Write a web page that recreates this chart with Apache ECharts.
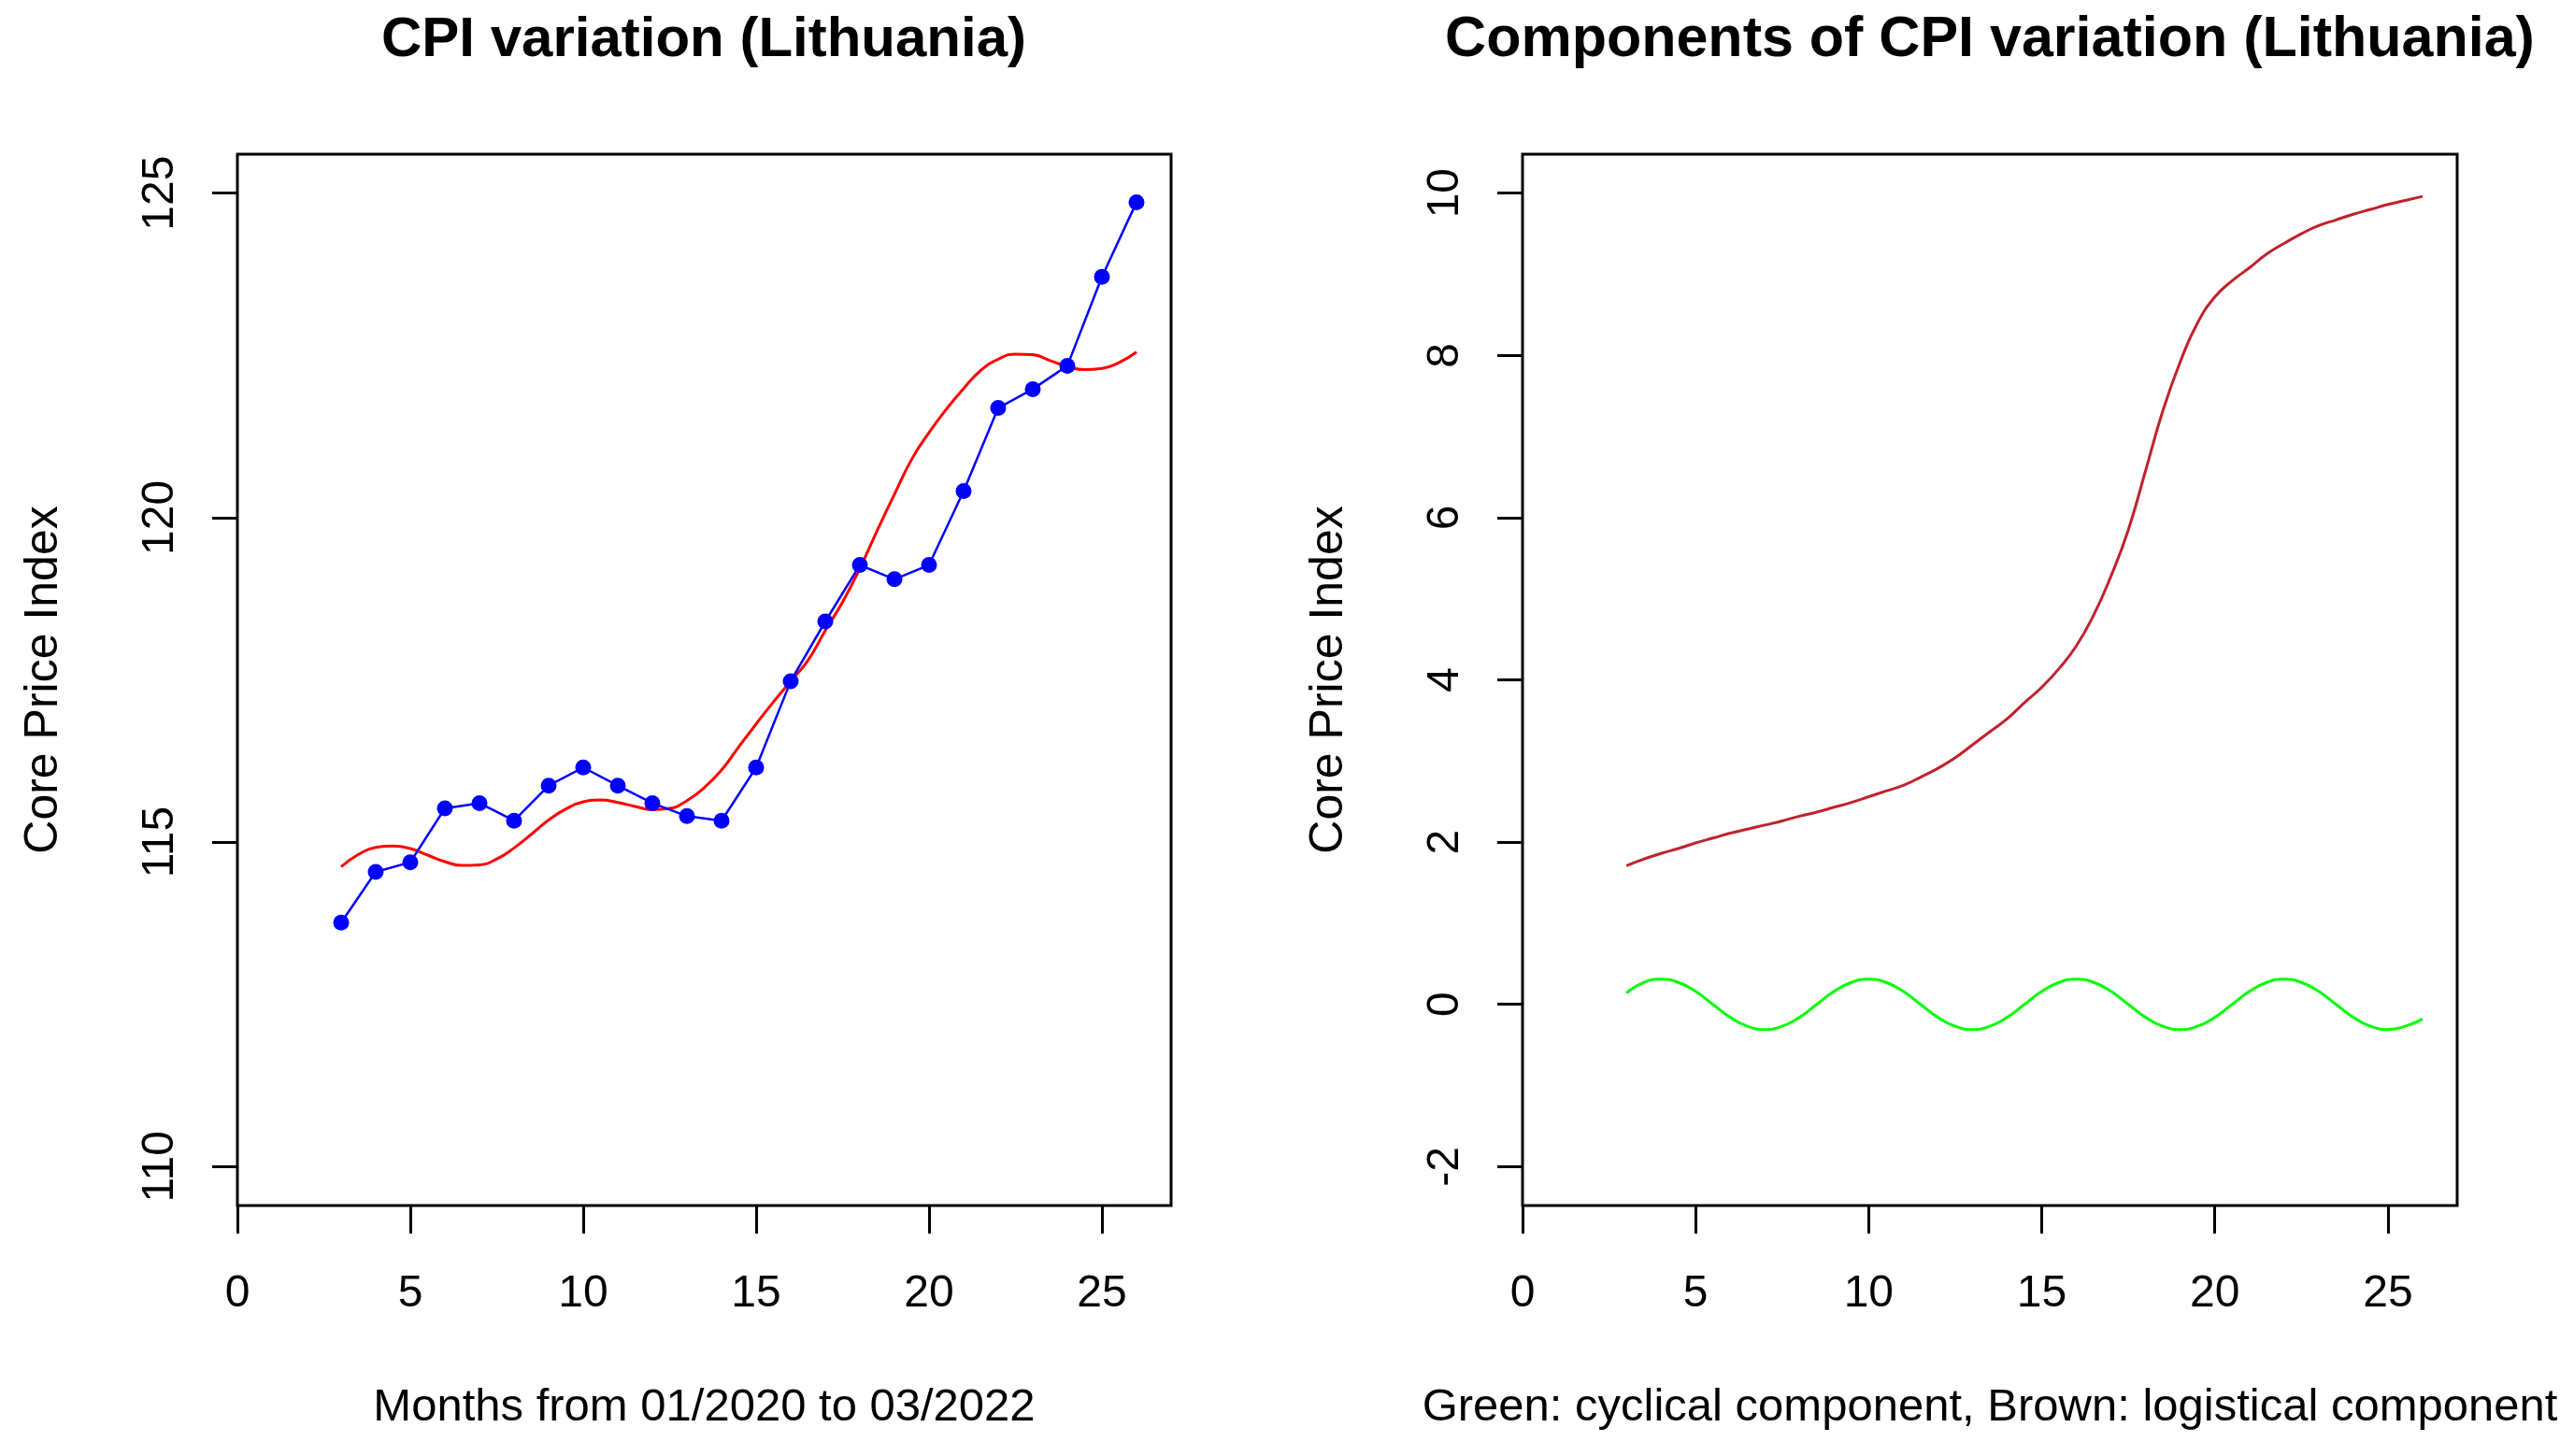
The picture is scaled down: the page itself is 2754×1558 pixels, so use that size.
<!DOCTYPE html>
<html>
<head>
<meta charset="utf-8">
<script src="https://cdn.jsdelivr.net/npm/echarts@6/dist/echarts.min.js"></script>
<style>
  html, body { margin: 0; padding: 0; background: #fff; }
  #chart { width: 2754px; height: 1558px; }
</style>
</head>
<body>
<div id="chart"></div>
<script>
// ---- data ----
const months = [3,4,5,6,7,8,9,10,11,12,13,14,15,16,17,18,19,20,21,22,23,24,25,26];
const cpiValues = [113.76,114.54,114.69,115.52,115.60,115.33,115.87,116.15,115.87,115.60,115.40,115.33,
                   116.15,117.48,118.40,119.27,119.05,119.27,120.41,121.69,121.98,122.34,123.71,124.86];
const fineMonths = [3,3.5,4,4.5,5,5.5,6,6.5,7,7.5,8,8.5,9,9.5,10,10.5,11,11.5,12,12.5,13,13.5,14,14.5,
                    15,15.5,16,16.5,17,17.5,18,18.5,19,19.5,20,20.5,21,21.5,22,22.5,23,23.5,24,24.5,25,25.5,26];
const fittedValues = [114.62,114.81,114.92,114.94,114.90,114.80,114.70,114.64,114.65,114.74,114.91,115.12,
                      115.34,115.51,115.62,115.65,115.61,115.55,115.50,115.52,115.64,115.84,116.11,116.47,
                      116.82,117.16,117.48,117.80,118.26,118.70,119.22,119.80,120.36,120.90,121.31,121.67,
                      121.99,122.27,122.44,122.52,122.51,122.42,122.33,122.28,122.30,122.39,122.55];
const cyclicalValues = [0.14,0.27,0.31,0.27,0.16,0.00,-0.16,-0.27,-0.31,-0.27,-0.16,0.00,
                        0.16,0.27,0.31,0.27,0.16,0.00,-0.16,-0.27,-0.31,-0.27,-0.16,0.00,
                        0.16,0.27,0.31,0.27,0.16,0.00,-0.16,-0.27,-0.31,-0.27,-0.16,0.00,
                        0.16,0.27,0.31,0.27,0.16,0.00,-0.16,-0.27,-0.31,-0.27,-0.18];
const logisticValues = [1.71,1.79,1.86,1.92,1.99,2.05,2.11,2.16,2.21,2.26,2.32,2.37,2.43,2.49,2.56,2.63,
                        2.70,2.80,2.91,3.04,3.20,3.36,3.52,3.72,3.91,4.14,4.42,4.80,5.28,5.85,6.58,7.32,
                        7.92,8.40,8.72,8.92,9.08,9.25,9.38,9.50,9.60,9.67,9.74,9.80,9.86,9.91,9.96];
const xTicks = [0,5,10,15,20,25];
const yTicksLeft = [110,115,120,125];
const yTicksRight = [-2,0,2,4,6,8,10];

const titleLeft = 'CPI variation (Lithuania)';
const titleRight = 'Components of CPI variation (Lithuania)';
const xNameLeft = 'Months from 01/2020 to 03/2022';
const xNameRight = 'Green: cyclical component, Brown: logistical component';
const yName = 'Core Price Index';

// ---- chart ----
const FONT = "'Liberation Sans', Arial, sans-serif";
const pair = (xs, ys) => xs.map((x, i) => [x, ys[i]]);

function xAxisCfg(gridIndex, name) {
  return {
    type: 'value', gridIndex, min: 0, max: 27,
    name, nameLocation: 'middle', nameGap: 192,
    nameTextStyle: { fontFamily: FONT, fontSize: 49, color: '#000' },
    axisLine: { show: false, onZero: false },
    axisTick: { show: true, inside: false, length: 30, customValues: xTicks,
                lineStyle: { color: '#000', width: 3 } },
    axisLabel: { customValues: xTicks, margin: 71, fontFamily: FONT, fontSize: 48, color: '#000' },
    splitLine: { show: false }
  };
}
function yAxisCfg(gridIndex, min, max, ticks) {
  return {
    type: 'value', gridIndex, min, max,
    name: yName, nameLocation: 'middle', nameGap: 182, nameRotate: 90,
    nameTextStyle: { fontFamily: FONT, fontSize: 50, color: '#000' },
    axisLine: { show: false, onZero: false },
    axisTick: { show: true, inside: false, length: 27, customValues: ticks,
                lineStyle: { color: '#000', width: 3 } },
    axisLabel: { customValues: ticks, rotate: 90, margin: 58, fontFamily: FONT, fontSize: 48, color: '#000' },
    splitLine: { show: false }
  };
}

const chart = echarts.init(document.getElementById('chart'), null, { renderer: 'canvas' });
chart.setOption({
  backgroundColor: '#fff',
  animation: false,
  graphic: [
    { type: 'text', x: 753, y: 13,
      style: { text: titleLeft, fontFamily: FONT, fontSize: 60, fontWeight: 'bold', fill: '#000',
               align: 'center', verticalAlign: 'top' } },
    { type: 'text', x: 2129, y: 13,
      style: { text: titleRight, fontFamily: FONT, fontSize: 61, fontWeight: 'bold', fill: '#000',
               align: 'center', verticalAlign: 'top' } }
  ],
  grid: [
    { left: 254, top: 165, width: 999, height: 1125, show: true, borderColor: '#000', borderWidth: 3,
      backgroundColor: 'transparent', containLabel: false },
    { left: 1629, top: 165, width: 1000, height: 1125, show: true, borderColor: '#000', borderWidth: 3,
      backgroundColor: 'transparent', containLabel: false }
  ],
  xAxis: [ xAxisCfg(0, xNameLeft), xAxisCfg(1, xNameRight) ],
  yAxis: [ yAxisCfg(0, 109.4, 125.6, yTicksLeft), yAxisCfg(1, -2.48, 10.48, yTicksRight) ],
  series: [
    { type: 'line', xAxisIndex: 0, yAxisIndex: 0, data: pair(fineMonths, fittedValues),
      smooth: true, showSymbol: false, lineStyle: { color: '#ff0000', width: 3 }, z: 2 },
    { type: 'line', xAxisIndex: 0, yAxisIndex: 0, data: pair(months, cpiValues),
      symbol: 'circle', symbolSize: 17, showSymbol: true,
      itemStyle: { color: '#0000ff' }, lineStyle: { color: '#0000ff', width: 2.5 }, z: 3 },
    { type: 'line', xAxisIndex: 1, yAxisIndex: 1, data: pair(fineMonths, logisticValues),
      smooth: true, showSymbol: false, lineStyle: { color: '#c0222d', width: 3 } },
    { type: 'line', xAxisIndex: 1, yAxisIndex: 1, data: pair(fineMonths, cyclicalValues),
      smooth: true, showSymbol: false, lineStyle: { color: '#00ff00', width: 3 } }
  ]
});
</script>
</body>
</html>
